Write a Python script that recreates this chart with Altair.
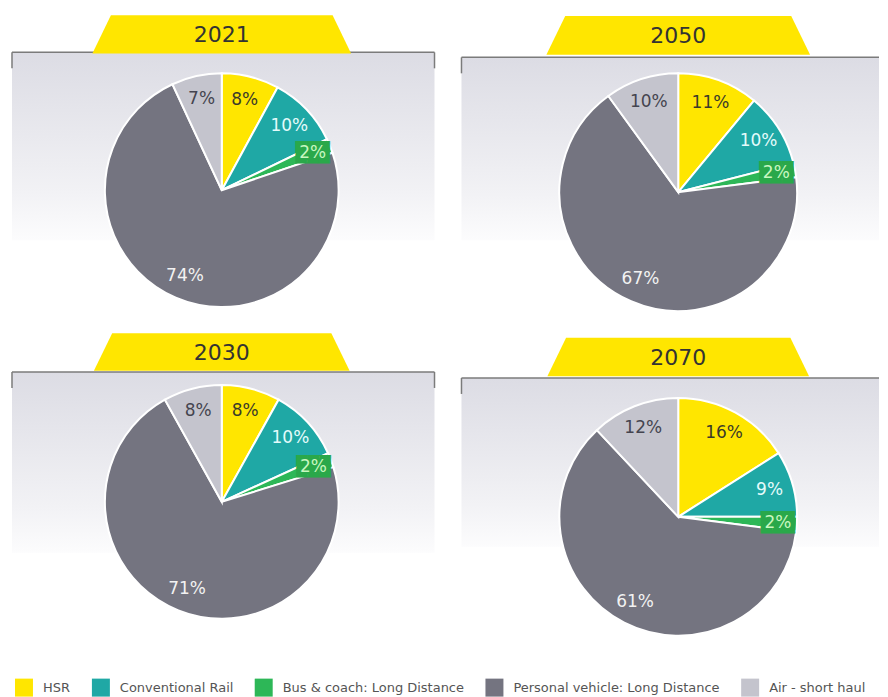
import altair as alt
import pandas as pd

# ---- data ----
modes = ["HSR", "Conventional Rail", "Bus & coach: Long Distance",
         "Personal vehicle: Long Distance", "Air - short haul"]
colors = ["#ffe600", "#1fa8a5", "#2db757", "#747480", "#c4c4cd"]
label_colors = ["#3a3a2a", "#e4fbfb", "#c8f7c0", "#f2f2f2", "#44444f"]

share_2021 = [8, 10, 2, 74, 7]
share_2050 = [11, 10, 2, 67, 10]
share_2030 = [8, 10, 2, 71, 8]
share_2070 = [16, 9, 2, 61, 12]
shares = {"2021": share_2021, "2050": share_2050, "2030": share_2030, "2070": share_2070}

BUS = "Bus & coach: Long Distance"
TAB_PATH = "M-1,0.147L-0.857,-0.147L0.857,-0.147L1,0.147Z"
FONT = "DejaVu Sans"
W, H = 436, 320

layout = {
    "2021": dict(cx=214, cy=182, r=117, tx=214, ty=26, tw=259, ly=44, x1=4, x2=427, y2=232, rt=True),
    "2050": dict(cx=235, cy=184, r=119, tx=235, ty=27, tw=264, ly=49, x1=18, x2=436, y2=232, rt=False),
    "2030": dict(cx=214, cy=174, r=117, tx=214, ty=24, tw=256, ly=44, x1=4, x2=427, y2=225, rt=True),
    "2070": dict(cx=235, cy=189, r=119, tx=235, ty=29, tw=262, ly=50, x1=18, x2=436, y2=219, rt=False),
}

color_enc = alt.Color(
    "mode:N",
    scale=alt.Scale(domain=modes, range=colors),
    legend=alt.Legend(
        orient="none", legendX=7, legendY=671, direction="horizontal", title=None,
        symbolType="square", symbolSize=324, symbolStrokeWidth=0,
        labelFont=FONT, labelFontSize=13, labelColor="#555555", labelLimit=0,
        labelOffset=10, columnPadding=21, padding=0,
    ),
)


def panel(year):
    L = layout[year]
    df = pd.DataFrame({
        "mode": modes,
        "share": shares[year],
        "idx": list(range(len(modes))),
        "lc": label_colors,
    })
    df["label"] = df["share"].astype(str) + "%"
    one = alt.Chart(pd.DataFrame({"year": [year]}))

    bg = one.mark_rect(
        fill=alt.LinearGradient(
            gradient="linear",
            stops=[alt.GradientStop(color="#dcdce4", offset=0),
                   alt.GradientStop(color="#f2f2f5", offset=0.75),
                   alt.GradientStop(color="#fcfcfd", offset=1)],
            x1=0, x2=0, y1=0, y2=1,
        )
    ).encode(x=alt.value(L["x1"]), x2=alt.value(L["x2"]),
             y=alt.value(L["ly"]), y2=alt.value(L["y2"]))

    rule_style = dict(color="#7b7b7b", strokeWidth=1.5)
    top_line = one.mark_rule(**rule_style).encode(
        x=alt.value(L["x1"]), x2=alt.value(L["x2"]), y=alt.value(L["ly"]))
    left_tick = one.mark_rule(**rule_style).encode(
        x=alt.value(L["x1"]), y=alt.value(L["ly"]), y2=alt.value(L["ly"] + 16))
    layers = [bg, top_line, left_tick]
    if L["rt"]:
        layers.append(one.mark_rule(**rule_style).encode(
            x=alt.value(L["x2"]), y=alt.value(L["ly"]), y2=alt.value(L["ly"] + 16)))

    tab = one.mark_point(shape=TAB_PATH, filled=True, color="#ffe600", opacity=1,
                         size=L["tw"] ** 2, strokeWidth=0).encode(
        x=alt.value(L["tx"]), y=alt.value(L["ty"]))
    title = one.mark_text(font=FONT, fontSize=22, color="#333333", baseline="middle").encode(
        x=alt.value(L["tx"]), y=alt.value(L["ty"] + 1), text="year:N")
    layers += [tab, title]

    base = alt.Chart(df).encode(
        theta=alt.Theta("share:Q", stack="normalize"),
        order=alt.Order("idx:Q"),
        x=alt.value(L["cx"]), y=alt.value(L["cy"]),
    )
    arcs = base.mark_arc(outerRadius=L["r"], stroke="white", strokeWidth=2).encode(color=color_enc)
    labels = base.transform_calculate(
        t=f"datum.mode === '{BUS}' ? '' : datum.label"
    ).mark_text(radius=L["r"] * 0.8, font=FONT, fontSize=17).encode(
        text="t:N", fill=alt.Fill("lc:N", scale=None))
    bus_box = base.transform_calculate(
        t=f"datum.mode === '{BUS}' ? '\u2588\u2588\u2588' : ''"
    ).mark_text(radius=L["r"] * 0.84, font="DejaVu Sans Mono", fontSize=19,
                color="#2aa84a").encode(text="t:N")
    bus_label = base.transform_calculate(
        t=f"datum.mode === '{BUS}' ? datum.label : ''"
    ).mark_text(radius=L["r"] * 0.84, font=FONT, fontSize=17).encode(
        text="t:N", fill=alt.Fill("lc:N", scale=None))
    layers += [arcs, labels, bus_box, bus_label]

    return alt.layer(*layers).properties(width=W, height=H)


row1 = alt.hconcat(panel("2021"), panel("2050"), spacing=0)
row2 = alt.hconcat(panel("2030"), panel("2070"), spacing=0)
chart = alt.vconcat(row1, row2, spacing=0).properties(
    padding=0, background="white"
).configure_view(stroke=None)

chart.save("out.html", embed_options={"renderer": "svg", "actions": False})
